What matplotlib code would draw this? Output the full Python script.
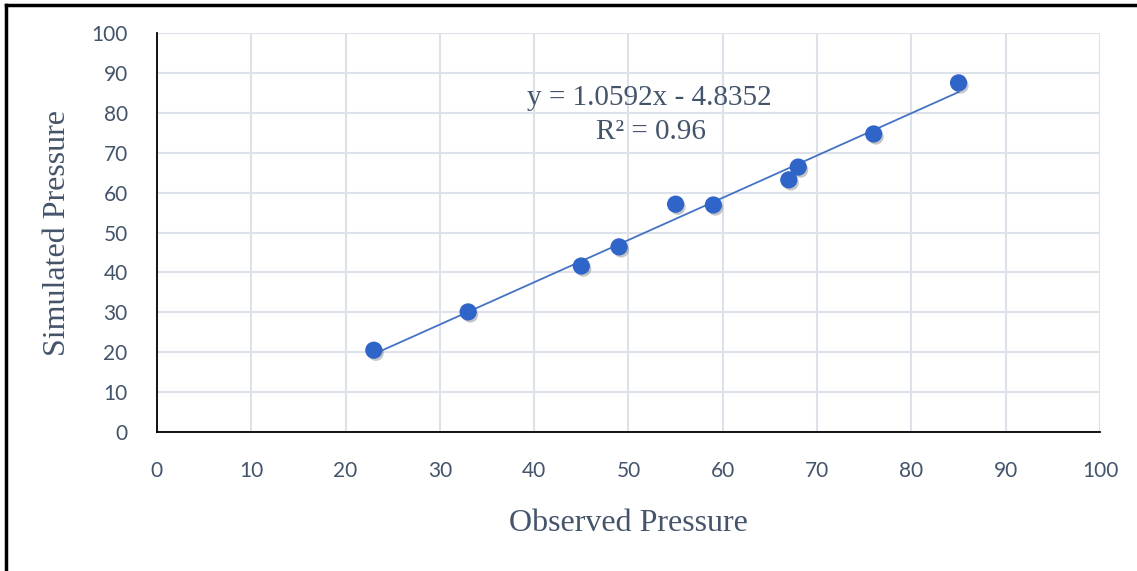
import numpy as np
import matplotlib.pyplot as plt
import matplotlib.patheffects as pe
from matplotlib.lines import Line2D

observed = [23, 33, 45, 49, 55, 59, 67, 68, 76, 85]
simulated = [20.5, 30.1, 41.6, 46.4, 57.1, 56.9, 63.2, 66.4, 74.7, 87.5]
slope = 1.0592
intercept = -4.8352
r2_text = "R² = 0.96"
ticks = [0, 10, 20, 30, 40, 50, 60, 70, 80, 90, 100]

text_color = "#44546A"
grid_color = "#DDE2EA"

fig = plt.figure(figsize=(11.37, 5.71), dpi=100)
ax = fig.add_axes([0.138, 0.2434, 0.8295, 0.6988])

ax.set_xlim(0, 100)
ax.set_ylim(0, 100)
ax.set_xticks(ticks)
ax.set_yticks(ticks)
ax.grid(True, color=grid_color, linewidth=1.5)
ax.set_axisbelow(True)
for s in ["top", "right"]:
    ax.spines[s].set_visible(False)
for s in ["left", "bottom"]:
    ax.spines[s].set_color("black")
    ax.spines[s].set_linewidth(1.3)
ax.tick_params(length=0, colors=text_color, labelsize=15)
ax.tick_params(axis="x", pad=21)
ax.tick_params(axis="y", pad=21)
for lab in ax.get_xticklabels() + ax.get_yticklabels():
    lab.set_family("Lato")

# trendline
xs = np.array([min(observed), max(observed)])
ax.plot(xs, slope * xs + intercept, color="#4472C4", linewidth=1.3, zorder=2)

ax.scatter(observed, simulated, s=130, color="#2F64C8", zorder=3,
           path_effects=[pe.SimplePatchShadow(offset=(1.5, -2), alpha=0.3, shadow_rgbFace="#444444"),
                         pe.Normal()])

ax.text(52.2, 83.7, f"y = {slope}x - {abs(intercept)}", ha="center", va="center",
        fontsize=21, family="Liberation Serif", color=text_color)
ax.text(52.4, 75.2, r2_text, ha="center", va="center",
        fontsize=21, family="Liberation Serif", color=text_color)

ax.set_xlabel("Observed Pressure", fontsize=23, family="Liberation Serif",
              color=text_color, labelpad=20)
ax.set_ylabel("Simulated Pressure", fontsize=23, family="Liberation Serif",
              color=text_color, labelpad=14)

# frame on top and left edge
fig.add_artist(Line2D([0.0055, 1.0], [0.9912, 0.9912], color="black", linewidth=2.5))
fig.add_artist(Line2D([0.0055, 0.0055], [0.0, 0.9912], color="black", linewidth=2.5))

fig.savefig("out.png", dpi=100)
